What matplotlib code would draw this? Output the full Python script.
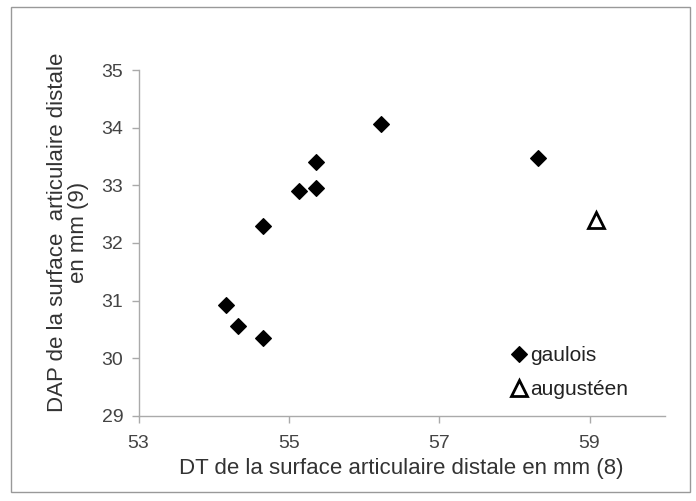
import matplotlib
matplotlib.use("Agg")
import matplotlib.pyplot as plt
from matplotlib.patches import Rectangle

plt.rcParams['font.family'] = ['Liberation Sans', 'DejaVu Sans']

# gaulois
dt_gaulois  = [54.17, 54.33, 54.66, 54.65, 55.14, 55.36, 55.36, 56.22, 58.31]
dap_gaulois = [30.92, 30.56, 30.35, 32.30, 32.90, 32.96, 33.41, 34.06, 33.47]
# augusteen
dt_aug  = [59.08]
dap_aug = [32.40]

xticks = [53, 55, 57, 59]
yticks = [29, 30, 31, 32, 33, 34, 35]

fig = plt.figure(figsize=(6.96, 5.01), dpi=100, facecolor='white')
ax = fig.add_axes([0.199, 0.170, 0.756, 0.690])

ax.plot(dt_gaulois, dap_gaulois, 'D', color='black', markersize=8,
        markeredgewidth=0.8, label='gaulois', linestyle='none')
ax.plot(dt_aug, dap_aug, '^', markerfacecolor='white', markeredgecolor='black',
        markersize=12, markeredgewidth=2, label='augustéen', linestyle='none')

ax.set_xlim(53, 60)
ax.set_ylim(29, 35)
ax.set_xticks(xticks)
ax.set_yticks(yticks)

for s in ['top', 'right']:
    ax.spines[s].set_visible(False)
for s in ['left', 'bottom']:
    ax.spines[s].set_color('#aaaaaa')
    ax.spines[s].set_linewidth(1)
ax.tick_params(colors='#aaaaaa', labelcolor='#444444', labelsize=14,
               length=5, width=1)
ax.tick_params(axis='x', pad=9)
ax.tick_params(axis='y', pad=6)

ax.set_xlabel('DT de la surface articulaire distale en mm (8)',
              fontsize=16, color='#333333', labelpad=4)
ax.set_ylabel('DAP de la surface  articulaire distale\nen mm (9)',
              fontsize=16, color='#333333', linespacing=1.0,
              multialignment='center')
ax.yaxis.set_label_coords(-0.095, 0.53)

ax.legend(loc='upper left', bbox_to_anchor=(0.685, 0.225), frameon=False,
          fontsize=15, handletextpad=0.0, labelspacing=0.7,
          borderaxespad=0, handlelength=1.1, labelcolor='#222222')

fig.patches.append(Rectangle((0.0158, 0.018), 0.9756, 0.968,
                             transform=fig.transFigure, fill=False,
                             edgecolor='#999999', linewidth=1))

fig.savefig('out.png', dpi=100)
